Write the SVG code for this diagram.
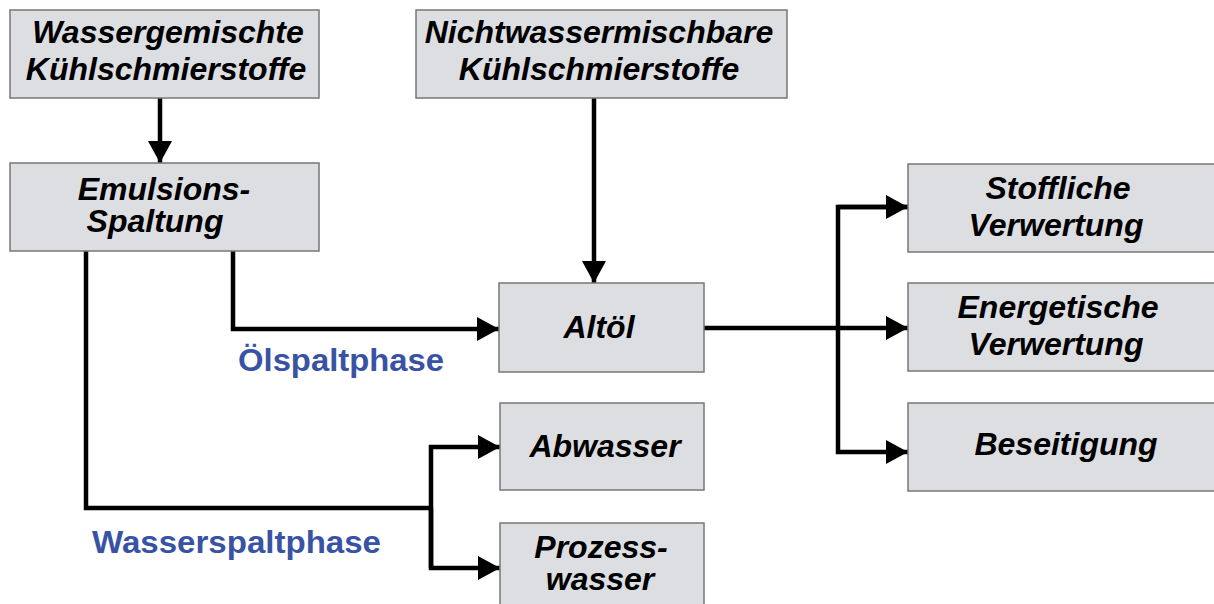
<svg xmlns="http://www.w3.org/2000/svg" width="1214" height="604" viewBox="0 0 1214 604">
<style>
.box{fill:#dddee1;stroke:#777;stroke-width:1.5}
.t{font-family:"Liberation Sans",Arial,sans-serif;font-weight:bold;font-style:italic;font-size:32px;fill:#000;text-anchor:middle}
.b{font-family:"Liberation Sans",Arial,sans-serif;font-weight:bold;font-size:32px;fill:#3953a4}
.c{fill:none;stroke:#000;stroke-width:4.5}
</style>
<defs>
<marker id="ah" viewBox="0 0 22 24" refX="22" refY="12" markerWidth="22" markerHeight="24" markerUnits="userSpaceOnUse" orient="auto">
<path d="M0,0 L22,12 L0,24 Z" fill="#000"/>
</marker>
</defs>
<g id="connectors">
<path class="c" d="M160,98 V163" marker-end="url(#ah)"/>
<path class="c" d="M594,98 V283" marker-end="url(#ah)"/>
<path class="c" d="M233,251 V329 H499" marker-end="url(#ah)"/>
<path class="c" d="M86,251 V508 H431"/>
<path class="c" d="M431,568 V447 H500" marker-end="url(#ah)"/>
<path class="c" d="M431,508 V568 H500" marker-end="url(#ah)"/>
<path class="c" d="M704,328 H908" marker-end="url(#ah)"/>
<path class="c" d="M908,207 H838 V452 H908" marker-end="url(#ah)"/>
<path class="c" d="M838,207 H908" marker-end="url(#ah)"/>
</g>
<g id="n-wassergemischte">
<rect class="box" x="10" y="10" width="309" height="88"/>
<text class="t" x="168" y="43">Wassergemischte</text>
<text class="t" x="166" y="80">Kühlschmierstoffe</text>
</g>
<g id="n-nichtwasser">
<rect class="box" x="416" y="10" width="371" height="88"/>
<text class="t" x="599" y="43">Nichtwassermischbare</text>
<text class="t" x="599" y="80">Kühlschmierstoffe</text>
</g>
<g id="n-emulsion">
<rect class="box" x="10" y="163" width="309" height="88"/>
<text class="t" x="164" y="200">Emulsions-</text>
<text class="t" x="155" y="232">Spaltung</text>
</g>
<g id="n-altoel">
<rect class="box" x="499" y="283" width="205" height="89"/>
<text class="t" x="599" y="338">Altöl</text>
</g>
<g id="n-abwasser">
<rect class="box" x="500" y="403" width="204" height="87"/>
<text class="t" x="605" y="457">Abwasser</text>
</g>
<g id="n-prozess">
<rect class="box" x="500" y="523" width="204" height="90"/>
<text class="t" x="601" y="558">Prozess-</text>
<text class="t" x="600" y="590">wasser</text>
</g>
<g id="n-stoffliche">
<rect class="box" x="908" y="164" width="310" height="88"/>
<text class="t" x="1058" y="199">Stoffliche</text>
<text class="t" x="1056" y="236">Verwertung</text>
</g>
<g id="n-energetische">
<rect class="box" x="908" y="283" width="310" height="88"/>
<text class="t" x="1058" y="318">Energetische</text>
<text class="t" x="1056" y="355">Verwertung</text>
</g>
<g id="n-beseitigung">
<rect class="box" x="908" y="403" width="310" height="88"/>
<text class="t" x="1066" y="455">Beseitigung</text>
</g>
<g id="labels">
<text class="b" x="238" y="371" textLength="206" lengthAdjust="spacingAndGlyphs">Ölspaltphase</text>
<text class="b" x="92" y="553" textLength="289" lengthAdjust="spacingAndGlyphs">Wasserspaltphase</text>
</g>
</svg>
